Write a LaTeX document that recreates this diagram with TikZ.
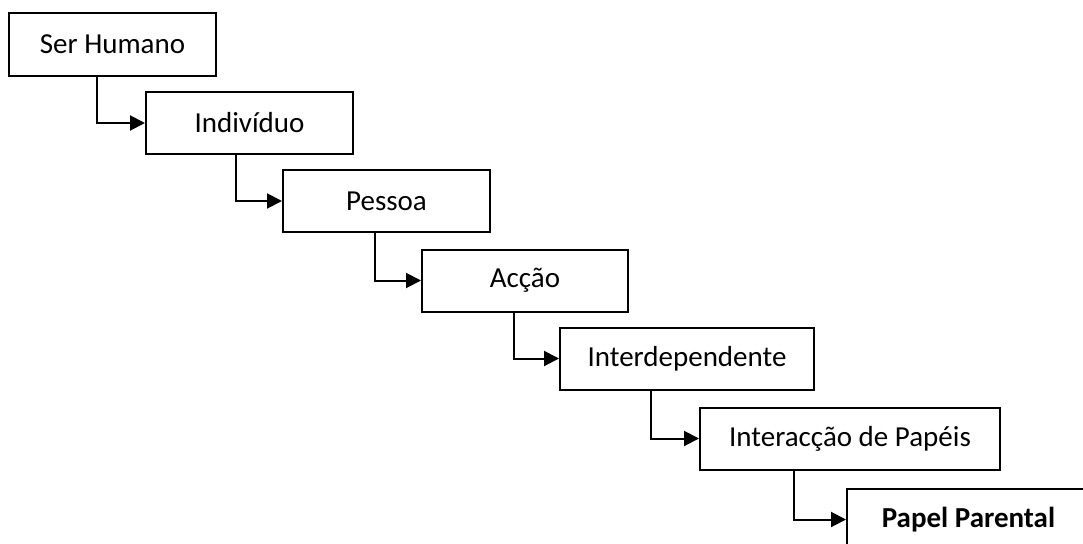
\documentclass[tikz,border=0pt]{standalone}
\usepackage{fontspec}
\setmainfont{Carlito}
\usetikzlibrary{arrows.meta}
\tikzset{
  boxnode/.style={draw, line width=2pt, rectangle, inner sep=0pt, minimum height=62pt, font=\fontsize{29}{34}\selectfont},
  conn/.style={line width=2pt, -{Triangle[length=15pt,width=15pt]}}
}
\begin{document}
\begin{tikzpicture}[x=1pt,y=-1pt]
\clip (0,0) rectangle (1083,543);
\fill[white] (0,0) rectangle (1083,543);
\node[boxnode, minimum width=207pt] (b1) at (112.5,44.5) {Ser Humano};
\node[boxnode, minimum width=207pt] (b2) at (249.5,123) {Indivíduo};
\node[boxnode, minimum width=207pt] (b3) at (386.5,201) {Pessoa};
\node[boxnode, minimum width=206pt] (b4) at (525,280.5) {Acção};
\node[boxnode, minimum width=254pt] (b5) at (687,358.5) {Interdependente};
\node[boxnode, minimum width=300pt] (b6) at (850,438.5) {Interacção de Papéis};
\node[boxnode, minimum width=243pt] (b7) at (968.5,519.5) {\bfseries Papel Parental};
\draw[conn] ([xshift=89pt]b1.south west) |- (b2.west);
\draw[conn] ([xshift=91pt]b2.south west) |- (b3.west);
\draw[conn] ([xshift=93pt]b3.south west) |- (b4.west);
\draw[conn] ([xshift=93pt]b4.south west) |- (b5.west);
\draw[conn] ([xshift=92pt]b5.south west) |- (b6.west);
\draw[conn] ([xshift=95pt]b6.south west) |- (b7.west);
\end{tikzpicture}
\end{document}
